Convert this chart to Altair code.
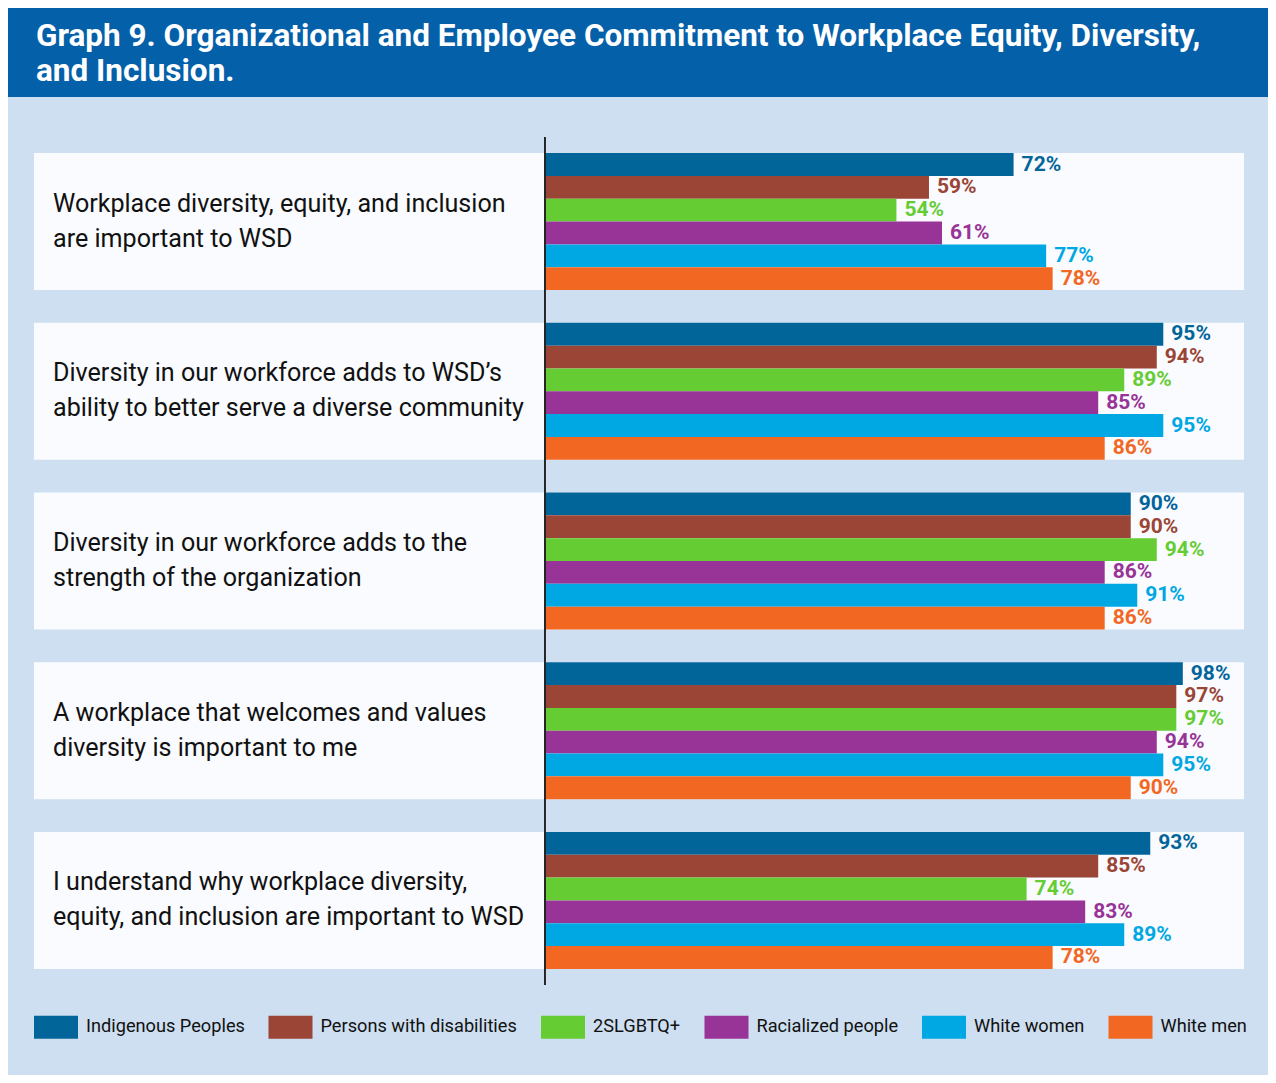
import altair as alt
import pandas as pd

statements = [
    "Workplace diversity, equity, and inclusion\nare important to WSD",
    "Diversity in our workforce adds to WSD\u2019s\nability to better serve a diverse community",
    "Diversity in our workforce adds to the\nstrength of the organization",
    "A workplace that welcomes and values\ndiversity is important to me",
    "I understand why workplace diversity,\nequity, and inclusion are important to WSD",
]
groups = ["Indigenous Peoples", "Persons with disabilities", "2SLGBTQ+",
          "Racialized people", "White women", "White men"]
colors = ["#02659a", "#9a4535", "#66cc33", "#983397", "#00a8e3", "#f26823"]

indigenous = [72, 95, 90, 98, 93]
disabilities = [59, 94, 90, 97, 85]
lgbtq = [54, 89, 94, 97, 74]
racialized = [61, 85, 86, 94, 83]
white_women = [77, 95, 91, 95, 89]
white_men = [78, 86, 86, 90, 78]

title_text = ("Graph 9. Organizational and Employee Commitment to Workplace Equity, Diversity,\n"
              "and Inclusion.")

series = [indigenous, disabilities, lgbtq, racialized, white_women, white_men]
rows = []
for gi, (g, vals) in enumerate(zip(groups, series)):
    for si, s in enumerate(statements):
        rows.append({"statement": s, "group": g, "value": vals[si],
                     "zero": 0, "label": f"{vals[si]}%"})
df = pd.DataFrame(rows)
panels = pd.DataFrame({"statement": statements, "zero": [0] * len(statements)})

X_MIN, X_MAX = -78.5, 107.4
W, H = 1210, 848
FONT = "'Liberation Sans Narrow', 'Arial Narrow', Roboto, sans-serif"

xs = alt.Scale(domain=[X_MIN, X_MAX], nice=False, zero=False)
ys = alt.Scale(domain=statements, paddingInner=0.193, paddingOuter=0.095)
cs = alt.Scale(domain=groups, range=colors)
yo = alt.Scale(domain=groups, paddingInner=0, paddingOuter=0)

base_y = alt.Y("statement:N", scale=ys, axis=None)

panel_layer = alt.Chart(panels).mark_rect(color="#f9fbfe").encode(
    y=base_y,
    x=alt.value(0),
    x2=alt.value(W),
)

label_layer = alt.Chart(panels).mark_text(
    align="left", baseline="middle", font=FONT, fontSize=25.1,
    lineBreak="\n", lineHeight=35, color="#111111", dy=-18
).encode(
    y=base_y,
    x=alt.value(19),
    text="statement:N",
)

bars = alt.Chart(df).mark_bar().encode(
    y=base_y,
    yOffset=alt.YOffset("group:N", scale=yo),
    x=alt.X("zero:Q", scale=xs, axis=None),
    x2="value:Q",
    color=alt.Color("group:N", scale=cs, legend=alt.Legend(
        title=None, orient="none", legendX=0, legendY=868, direction="horizontal",
        columns=6, symbolType="M-1,-0.52H1V0.52H-1Z", symbolSize=1936,
        symbolStrokeWidth=0, symbolOpacity=1, labelFont=FONT, labelFontSize=18.2,
        labelColor="#111111", labelOffset=8, columnPadding=23.5, labelLimit=400,
    )),
)

values = alt.Chart(df).mark_text(
    align="left", baseline="middle", dx=8, font=FONT, fontSize=21,
    fontWeight="bold"
).encode(
    y=base_y,
    yOffset=alt.YOffset("group:N", scale=yo),
    x=alt.X("value:Q", scale=xs, axis=None),
    text="label:N",
    color=alt.Color("group:N", scale=cs, legend=None),
)

axis_rule = alt.Chart(panels).mark_rule(color="#222222", strokeWidth=1).encode(
    x=alt.X("zero:Q", scale=xs, axis=None),
)

one = pd.DataFrame({"t": [title_text]})
header = alt.Chart(one).mark_rect(color="#0560aa").encode(
    x=alt.value(-28), x2=alt.value(W + 30),
    y=alt.value(-132), y2=alt.value(-40),
)
title = alt.Chart(one).mark_text(
    align="left", baseline="alphabetic", color="white", lineBreak="\n",
    font=FONT, fontSize=31.5, fontWeight="bold", lineHeight=35,
).encode(x=alt.value(2), y=alt.value(-91), text="t:N")

chart = alt.layer(
    header, title, panel_layer, label_layer, bars, values, axis_rule
).properties(
    width=W, height=H,
    padding={"left": 26, "top": 129, "right": 24, "bottom": 90},
    autosize=alt.AutoSizeParams(type="none"),
    background="#cddff0",
).configure_view(stroke=None)

chart.save("out.html", embed_options={"renderer": "svg", "actions": False})
